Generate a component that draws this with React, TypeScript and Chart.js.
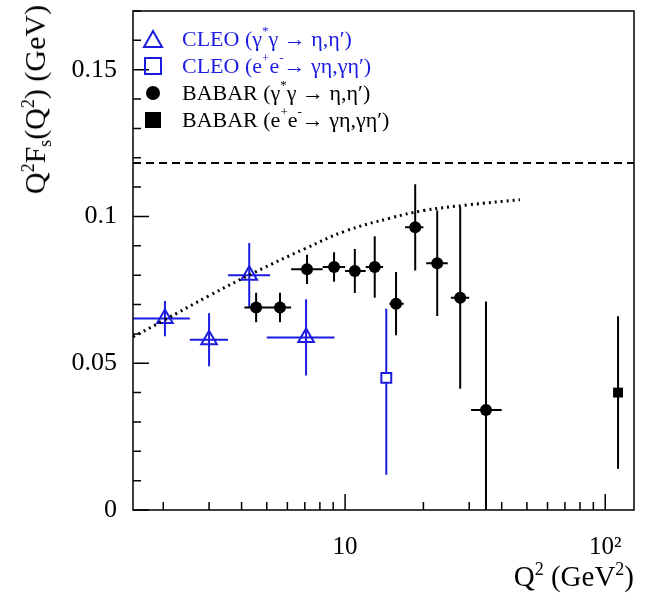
import React, { useEffect, useRef } from 'react';
import Chart from 'chart.js/auto';

// CLEO gamma* gamma (triangles)
const cleoTriX = [2.03, 3.0, 4.28, 7.08];
const cleoTriY = [0.0652, 0.058, 0.080, 0.0588];
const cleoTriXLo = [1.53, 2.53, 3.55, 5.0];
const cleoTriXHi = [2.53, 3.55, 5.15, 9.1];
const cleoTriYErr = [0.006, 0.009, 0.011, 0.013];

// CLEO e+e- (open square)
const cleoSqX = [14.4];
const cleoSqY = [0.045];
const cleoSqYLo = [0.012];
const cleoSqYHi = [0.0686];

// BABAR gamma* gamma (circles)
const babarX = [4.55, 5.62, 7.14, 9.07, 10.9, 13.0, 15.7, 18.6, 22.6, 27.7, 34.8];
const babarY = [0.069, 0.069, 0.082, 0.0828, 0.0814, 0.0828, 0.0703, 0.0963, 0.0841, 0.0723, 0.0341];
const babarXLo = [4.1, 5.1, 6.2, 8.2, 10.0, 12.0, 14.8, 17.0, 20.5, 25.5, 30.5];
const babarXHi = [5.1, 6.2, 8.2, 10.0, 12.0, 14.0, 16.8, 20.0, 24.8, 30.0, 40.0];
const babarYLo = [0.064, 0.064, 0.077, 0.0778, 0.0739, 0.0723, 0.0595, 0.0816, 0.0661, 0.0413, 0];
const babarYHi = [0.074, 0.074, 0.087, 0.0878, 0.0889, 0.0933, 0.0811, 0.111, 0.102, 0.1033, 0.071];

// BABAR e+e- (filled square)
const babarSqX = [112];
const babarSqY = [0.040];
const babarSqYLo = [0.014];
const babarSqYHi = [0.066];

// dotted model curve and dashed asymptote
const curveX = [1.53, 2, 3, 4.5, 7, 10, 15, 20, 30, 47];
const curveY = [0.059, 0.0645, 0.073, 0.081, 0.089, 0.095, 0.0995, 0.102, 0.104, 0.1057];
const asymY = 0.1182;

const X_MIN = 1.53;
const X_MAX = 129;
const Y_MIN = 0;
const Y_MAX = 0.17;
const BLUE = '#1c1ce0';

const pts = (xs: number[], ys: number[]) => xs.map((x, i) => ({ x, y: ys[i] }));

const errorPlugin = {
  id: 'errs',
  beforeDatasetsDraw(chart: any) {
    const { ctx, scales: { x, y }, chartArea } = chart;
    ctx.save();
    ctx.beginPath();
    ctx.rect(chartArea.left, chartArea.top, chartArea.width, chartArea.height);
    ctx.clip();
    chart.data.datasets.forEach((ds: any) => {
      if (!ds.err) return;
      ctx.strokeStyle = ds.errColor;
      ctx.lineWidth = 2;
      ds.data.forEach((p: any, i: number) => {
        const e = ds.err[i];
        const px = x.getPixelForValue(p.x);
        const py = y.getPixelForValue(p.y);
        ctx.beginPath();
        ctx.moveTo(px, y.getPixelForValue(e.ylo));
        ctx.lineTo(px, y.getPixelForValue(e.yhi));
        if (e.xlo != null) {
          ctx.moveTo(x.getPixelForValue(e.xlo), py);
          ctx.lineTo(x.getPixelForValue(e.xhi), py);
        }
        ctx.stroke();
      });
    });
    ctx.restore();
  },
  afterDraw(chart: any) {
    const { ctx, scales: { x, y }, chartArea: a } = chart;
    ctx.save();
    ctx.strokeStyle = '#000';
    ctx.lineWidth = 1.5;
    ctx.strokeRect(a.left, a.top, a.width, a.height);
    ctx.beginPath();
    for (let v = 0; v <= 0.17 + 1e-9; v += 0.01) {
      const major = Math.abs(Math.round(v * 100) % 5) === 0;
      const py = y.getPixelForValue(v);
      ctx.moveTo(a.left, py);
      ctx.lineTo(a.left + (major ? 16 : 8), py);
    }
    for (const dec of [1, 10, 100]) {
      for (let k = 1; k <= 9; k++) {
        const v = dec * k;
        if (v < X_MIN || v > X_MAX) continue;
        const px = x.getPixelForValue(v);
        ctx.moveTo(px, a.bottom);
        ctx.lineTo(px, a.bottom - (k === 1 ? 16 : 8));
      }
    }
    ctx.stroke();
    ctx.restore();
  },
};

const Marker = ({ kind }: { kind: string }) => (
  <svg width="22" height="22" style={{ verticalAlign: 'middle', marginRight: 18 }}>
    {kind === 'tri' && <polygon points="11,3 20,19 2,19" fill="none" stroke={BLUE} strokeWidth="2" />}
    {kind === 'osq' && <rect x="3" y="3" width="16" height="16" fill="none" stroke={BLUE} strokeWidth="2" />}
    {kind === 'dot' && <circle cx="11" cy="11" r="7" fill="#000" />}
    {kind === 'fsq' && <rect x="3" y="3" width="16" height="16" fill="#000" />}
  </svg>
);

const Sup = ({ children, size = 13 }: { children: React.ReactNode; size?: number }) => (
  <span style={{ fontSize: size, position: 'relative', top: -size * 0.6 }}>{children}</span>
);
const Sub = ({ children, size = 16 }: { children: React.ReactNode; size?: number }) => (
  <span style={{ fontSize: size, position: 'relative', top: size * 0.35 }}>{children}</span>
);

const App = () => {
  const canvasRef = useRef<HTMLCanvasElement>(null);

  useEffect(() => {
    document.body.style.margin = '0';
    if (!canvasRef.current) return;
    const chart = new Chart(canvasRef.current, {
      type: 'scatter',
      data: {
        datasets: [
          {
            type: 'line', data: pts(curveX, curveY), borderColor: '#000', borderWidth: 3,
            borderDash: [2, 4], pointRadius: 0, tension: 0.4,
          } as any,
          {
            type: 'line', data: [{ x: X_MIN, y: asymY }, { x: X_MAX, y: asymY }], borderColor: '#000',
            borderWidth: 2, borderDash: [8, 5], pointRadius: 0,
          } as any,
          {
            data: pts(cleoTriX, cleoTriY), pointStyle: 'triangle', pointRadius: 9, borderWidth: 2,
            borderColor: BLUE, backgroundColor: 'rgba(0,0,0,0)', errColor: BLUE,
            err: cleoTriX.map((_, i) => ({ xlo: cleoTriXLo[i], xhi: cleoTriXHi[i], ylo: cleoTriY[i] - cleoTriYErr[i], yhi: cleoTriY[i] + cleoTriYErr[i] })),
          } as any,
          {
            data: pts(cleoSqX, cleoSqY), pointStyle: 'rect', pointRadius: 7, borderWidth: 2,
            borderColor: BLUE, backgroundColor: '#fff', errColor: BLUE,
            err: cleoSqX.map((_, i) => ({ ylo: cleoSqYLo[i], yhi: cleoSqYHi[i] })),
          } as any,
          {
            data: pts(babarX, babarY), pointStyle: 'circle', pointRadius: 6, borderWidth: 0,
            backgroundColor: '#000', errColor: '#000',
            err: babarX.map((_, i) => ({ xlo: babarXLo[i], xhi: babarXHi[i], ylo: babarYLo[i], yhi: babarYHi[i] })),
          } as any,
          {
            data: pts(babarSqX, babarSqY), pointStyle: 'rect', pointRadius: 7, borderWidth: 0,
            backgroundColor: '#000', errColor: '#000',
            err: babarSqX.map((_, i) => ({ ylo: babarSqYLo[i], yhi: babarSqYHi[i] })),
          } as any,
        ],
      },
      options: {
        animation: false,
        responsive: false,
        layout: { padding: { top: 0, right: 31 } },
        plugins: { legend: { display: false }, tooltip: { enabled: false } },
        scales: {
          x: {
            type: 'logarithmic', min: X_MIN, max: X_MAX,
            grid: { display: false }, border: { display: false },
            afterFit: (s: any) => { s.height = 93; s.paddingLeft = 0; s.paddingRight = 0; },
            afterBuildTicks: (s: any) => { s.ticks = [{ value: 10 }, { value: 100 }]; },
            ticks: {
              autoSkip: false, maxRotation: 0, padding: 14, color: '#000',
              font: { family: 'Liberation Serif', size: 25 },
              callback: (v: any) => (v === 10 ? '10' : v === 100 ? '10²' : ''),
            },
          },
          y: {
            min: Y_MIN, max: Y_MAX,
            grid: { display: false }, border: { display: false },
            afterFit: (s: any) => { s.width = 133; s.paddingTop = 0; s.paddingBottom = 0; },
            afterBuildTicks: (s: any) => { s.ticks = [0, 0.05, 0.1, 0.15].map((value) => ({ value })); },
            ticks: {
              padding: 8, color: '#000',
              font: { family: 'Liberation Serif', size: 26 },
              callback: (v: any) => String(Math.round(v * 100) / 100),
            },
          },
        },
      },
      plugins: [errorPlugin],
    });
    return () => chart.destroy();
  }, []);

  const serif = { fontFamily: 'Liberation Serif', color: '#000' };
  const row = { height: 27, fontSize: 22, display: 'flex', alignItems: 'center', whiteSpace: 'nowrap' } as const;

  return (
    <div style={{ position: 'relative', width: 665, height: 603 }}>
      <canvas ref={canvasRef} width={665} height={603} />
      <div style={{ position: 'absolute', left: 142, top: 25, ...serif }}>
        <div style={{ ...row, color: BLUE }}><Marker kind="tri" />CLEO (γ<Sup>*</Sup>γ → η,η′)</div>
        <div style={{ ...row, color: BLUE }}><Marker kind="osq" />CLEO (e<Sup>+</Sup>e<Sup>-</Sup> → γη,γη′)</div>
        <div style={row}><Marker kind="dot" />BABAR (γ<Sup>*</Sup>γ → η,η′)</div>
        <div style={row}><Marker kind="fsq" />BABAR (e<Sup>+</Sup>e<Sup>-</Sup> → γη,γη′)</div>
      </div>
      <div style={{
        position: 'absolute', left: 18, top: 5, ...serif, fontSize: 30, whiteSpace: 'nowrap',
        transform: 'rotate(-90deg) translateX(-100%)', transformOrigin: 'left top',
      }}>
        Q<Sup size={18}>2</Sup>F<Sub size={18}>s</Sub>(Q<Sup size={18}>2</Sup>) (GeV)
      </div>
      <div style={{ position: 'absolute', right: 31, top: 560, ...serif, fontSize: 29, whiteSpace: 'nowrap' }}>
        Q<Sup size={18}>2</Sup> (GeV<Sup size={18}>2</Sup>)
      </div>
    </div>
  );
};

export default App;
